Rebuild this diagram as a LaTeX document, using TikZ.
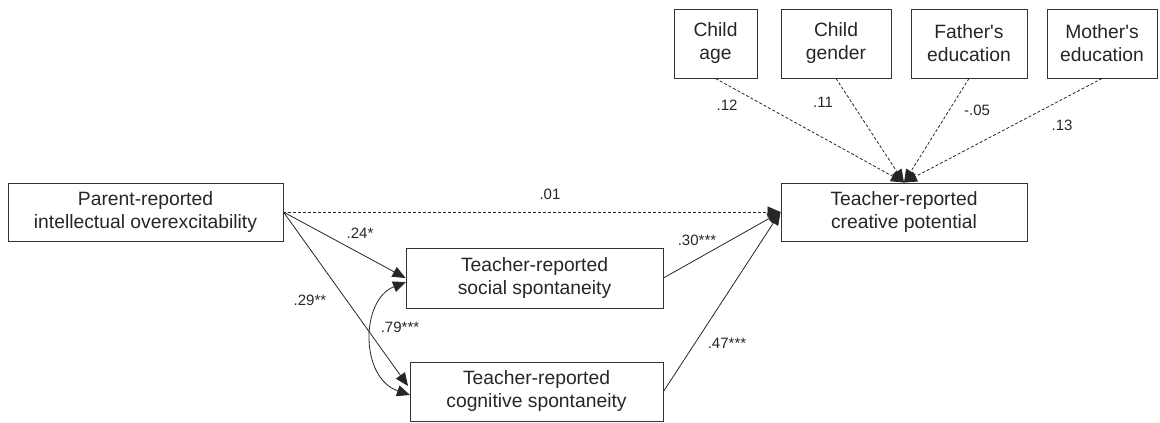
\documentclass[tikz,border=0pt]{standalone}
\usepackage{fontspec}
\setmainfont{Liberation Sans}
\usetikzlibrary{arrows.meta}
\begin{document}
\begin{tikzpicture}[x=1pt,y=-1pt,
  box/.style={draw=black!80,line width=0.9pt,inner sep=0pt,align=center,text=black!85,
    font=\fontsize{19.3}{23}\selectfont},
  lbl/.style={text=black!85,font=\fontsize{15}{17}\selectfont,inner sep=0pt},
  path/.style={draw=black!85,line width=0.8pt,-{Triangle[length=13pt,width=11pt]}},
  dpath/.style={path,dash pattern=on 3pt off 2pt}]
\useasboundingbox (0,0) rectangle (1160,423);
% nodes
\node[box,minimum width=275,minimum height=58] (par) at (145.5,212) {Parent-reported\\intellectual overexcitability};
\node[box,minimum width=246,minimum height=58] (cre) at (904,212) {Teacher-reported\\creative potential};
\node[box,minimum width=257,minimum height=60] (soc) at (534.5,278) {Teacher-reported\\social spontaneity};
\node[box,minimum width=253,minimum height=59] (cog) at (536.5,391.5) {Teacher-reported\\cognitive spontaneity};
\node[box,minimum width=83,minimum height=69] (age) at (715.5,43.5) {Child\\age\vphantom{g}};
\node[box,minimum width=110,minimum height=69] (gen) at (836,43.5) {Child\\gender};
\node[box,minimum width=116,minimum height=69] (fed) at (969,43.5) {Father\textquotesingle s\\education};
\node[box,minimum width=110,minimum height=69] (med) at (1102,43.5) {Mother\textquotesingle s\\education};
% covariate paths
\draw[dpath] (age.south) -- (cre.north);
\draw[dpath] (gen.south) -- (cre.north);
\draw[dpath] (fed.south) -- (cre.north);
\draw[dpath] (med.south) -- (cre.north);
\node[lbl] (l12) at (727,105) {.12};
\node[lbl] (l11) at (823,102) {.11};
\node[lbl] (l05) at (977,110) {-.05};
\node[lbl] (l13) at (1062,125) {.13};
% main paths
\draw[dpath] (par.east) -- (cre.west);
\node[lbl] (l01) at (550,194) {.01};
\draw[path] (par.east) -- (soc.west);
\node[lbl] (l24) at (360,233) {.24*};
\coordinate (cogin) at (408,386);
\draw[path] (par.east) -- (cogin);
\node[lbl] (l29) at (310,300) {.29**};
\draw[path] (soc.east) -- (cre.west);
\node[lbl] (l30) at (697,240) {.30***};
\draw[path] (cog.east) -- (cre.west);
\node[lbl] (l47) at (727,343) {.47***};
% correlation
\coordinate (sa) at (406,282);
\coordinate (cb) at (410,395);
\draw[draw=black!85,line width=0.8pt,{Triangle[length=13pt,width=11pt]}-{Triangle[length=13pt,width=11pt]}]
  (sa) .. controls (360,300) and (360,378) .. (cb);
\node[lbl] (l79) at (400,327) {.79***};
\end{tikzpicture}
\end{document}
